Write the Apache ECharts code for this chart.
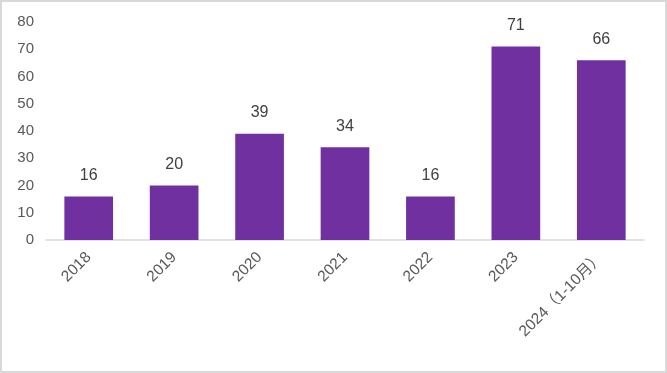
<!DOCTYPE html>
<html><head><meta charset="utf-8">
<script src="https://cdn.jsdelivr.net/npm/echarts@6/dist/echarts.min.js"></script>
<style>html,body{margin:0;padding:0;background:#fff}#c{width:667px;height:373px}</style>
</head><body><div id="c"></div>
<script>
const categories = ['2018','2019','2020','2021','2022','2023','2024（1-10月）'];
const values = [16,20,39,34,16,71,66];
const yTicks = [0,10,20,30,40,50,60,70,80];

const chart = echarts.init(document.getElementById('c'));
chart.setOption({
  animation:false,
  backgroundColor:'#fff',
  graphic:[{type:'rect',shape:{x:1,y:1,width:665,height:371},style:{fill:'none',stroke:'#d9d9d9',lineWidth:2}}],
  grid:{left:46,right:23,top:22,bottom:133},
  xAxis:{type:'category',data:categories,
    axisLine:{lineStyle:{color:'#d9d9d9',width:1.5}},axisTick:{show:false},
    axisLabel:{rotate:45,color:'#595959',fontSize:15.5,fontFamily:'Liberation Sans, Noto Sans CJK SC',margin:15,interval:0}},
  yAxis:{type:'value',min:yTicks[0],max:yTicks[yTicks.length-1],interval:10,
    axisLine:{show:false},axisTick:{show:false},splitLine:{show:false},
    axisLabel:{color:'#595959',fontSize:15,fontFamily:'Liberation Sans',margin:12}},
  series:[{type:'bar',data:values,barWidth:'57%',itemStyle:{color:'#7030A0'},
    label:{show:true,position:'top',distance:13,color:'#404040',fontSize:16,fontFamily:'Liberation Sans'}}]
});
</script></body></html>
